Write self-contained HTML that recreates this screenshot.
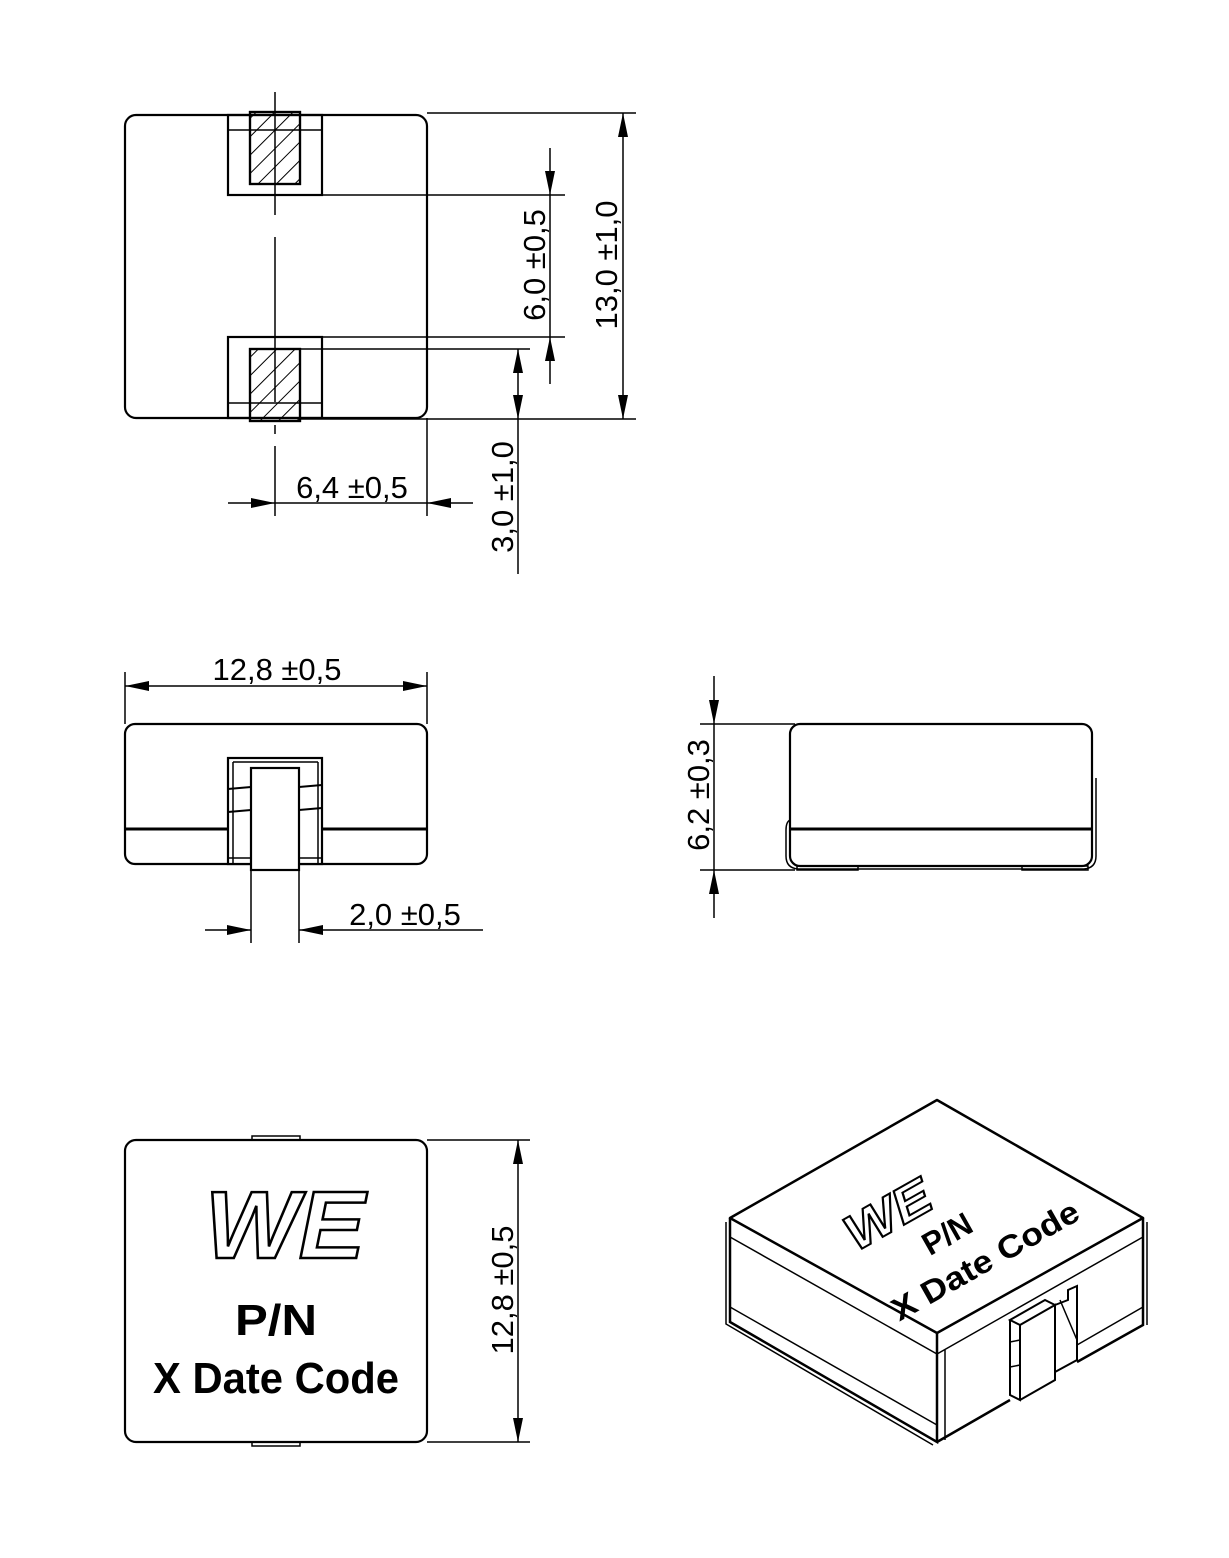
<!DOCTYPE html>
<html><head><meta charset="utf-8"><style>
html,body{margin:0;padding:0;background:#fff;}
svg{display:block;}
text{font-family:"Liberation Sans",sans-serif;}
.d{font-size:31px;fill:#000;}
</style></head><body>
<svg width="1229" height="1558" viewBox="0 0 1229 1558" xmlns="http://www.w3.org/2000/svg">
<defs>
<pattern id="h" width="13" height="13" patternUnits="userSpaceOnUse" patternTransform="rotate(45)">
<line x1="0" y1="0" x2="0" y2="13" stroke="#000" stroke-width="2"/>
</pattern>
<marker id="a" markerWidth="24" markerHeight="10" refX="24" refY="5" orient="auto" markerUnits="userSpaceOnUse">
<path d="M0,0 L24,5 L0,10 Z" fill="#000"/>
</marker>
</defs>
<g fill="none" stroke="#000" stroke-width="2.2">
<!-- TOP VIEW -->
<rect x="125" y="115" width="302" height="303" rx="11"/>
<rect x="228" y="115" width="94" height="80"/>
<rect x="228" y="337" width="94" height="81"/>
<line x1="228" y1="130" x2="322" y2="130" stroke-width="1.5"/>
<line x1="228" y1="403" x2="322" y2="403" stroke-width="1.5"/>
<rect x="250" y="112" width="50" height="72" fill="url(#h)"/>
<rect x="250" y="349" width="50" height="72" fill="url(#h)"/>
<rect x="250" y="112" width="50" height="72"/>
<rect x="250" y="349" width="50" height="72"/>
<line x1="275" y1="92" x2="275" y2="215" stroke-width="1.5"/>
<line x1="275" y1="237" x2="275" y2="402" stroke-width="1.5"/>
<line x1="275" y1="425" x2="275" y2="434" stroke-width="1.5"/>
<line x1="275" y1="446" x2="275" y2="516" stroke-width="1.5"/>
<!-- 13,0 -->
<line x1="427" y1="113" x2="636" y2="113" stroke-width="1.5"/>
<line x1="300" y1="419" x2="636" y2="419" stroke-width="1.5"/>
<line x1="623" y1="266" x2="623" y2="113" stroke-width="1.5" marker-end="url(#a)"/>
<line x1="623" y1="266" x2="623" y2="419" stroke-width="1.5" marker-end="url(#a)"/>
<!-- 6,0 -->
<line x1="322" y1="195" x2="565" y2="195" stroke-width="1.5"/>
<line x1="322" y1="337" x2="565" y2="337" stroke-width="1.5"/>
<line x1="550" y1="148" x2="550" y2="195" stroke-width="1.5" marker-end="url(#a)"/>
<line x1="550" y1="384" x2="550" y2="337" stroke-width="1.5" marker-end="url(#a)"/>
<line x1="550" y1="195" x2="550" y2="337" stroke-width="1.5"/>
<!-- 3,0 -->
<line x1="300" y1="349" x2="530" y2="349" stroke-width="1.5"/>
<line x1="518" y1="384" x2="518" y2="349" stroke-width="1.5" marker-end="url(#a)"/>
<line x1="518" y1="384" x2="518" y2="419" stroke-width="1.5" marker-end="url(#a)"/>
<line x1="518" y1="419" x2="518" y2="574" stroke-width="1.5"/>
<!-- 6,4 -->
<line x1="427" y1="418" x2="427" y2="516" stroke-width="1.5"/>
<line x1="228" y1="503" x2="275" y2="503" stroke-width="1.5" marker-end="url(#a)"/>
<line x1="473" y1="503" x2="427" y2="503" stroke-width="1.5" marker-end="url(#a)"/>
<line x1="275" y1="503" x2="427" y2="503" stroke-width="1.5"/>

<!-- FRONT VIEW -->
<rect x="125" y="724" width="302" height="140" rx="10"/>
<line x1="125" y1="829" x2="427" y2="829" stroke-width="3"/>
<rect x="228" y="758" width="94" height="106" fill="#fff"/>
<line x1="233" y1="762" x2="318" y2="762" stroke-width="1.5"/>
<line x1="233" y1="762" x2="233" y2="864" stroke-width="1.5"/>
<line x1="318" y1="762" x2="318" y2="864" stroke-width="1.5"/>
<line x1="228" y1="789" x2="251" y2="787" stroke-width="2"/>
<line x1="299" y1="787" x2="322" y2="785" stroke-width="2"/>
<line x1="228" y1="812" x2="251" y2="810" stroke-width="2"/>
<line x1="299" y1="810" x2="322" y2="808" stroke-width="2"/>
<line x1="228" y1="858" x2="251" y2="858" stroke-width="1.5"/>
<line x1="299" y1="858" x2="322" y2="858" stroke-width="1.5"/>
<rect x="251" y="768" width="48" height="102" fill="#fff"/>
<!-- 12,8 -->
<line x1="125" y1="672" x2="125" y2="724" stroke-width="1.5"/>
<line x1="427" y1="672" x2="427" y2="724" stroke-width="1.5"/>
<line x1="150" y1="686" x2="125" y2="686" stroke-width="1.5" marker-end="url(#a)"/>
<line x1="400" y1="686" x2="427" y2="686" stroke-width="1.5" marker-end="url(#a)"/>
<line x1="150" y1="686" x2="400" y2="686" stroke-width="1.5"/>
<!-- 2,0 -->
<line x1="251" y1="870" x2="251" y2="943" stroke-width="1.5"/>
<line x1="299" y1="870" x2="299" y2="943" stroke-width="1.5"/>
<line x1="205" y1="930" x2="251" y2="930" stroke-width="1.5" marker-end="url(#a)"/>
<line x1="483" y1="930" x2="299" y2="930" stroke-width="1.5" marker-end="url(#a)"/>

<!-- SIDE VIEW -->
<rect x="790" y="724" width="302" height="142" rx="10"/>
<line x1="790" y1="829" x2="1092" y2="829" stroke-width="3"/>
<path d="M790,820 Q786,822 786,830 L786,856 Q786,868 798,869 L1084,869 Q1096,868 1096,856 L1096,778" stroke-width="1.5"/>
<rect x="797" y="866" width="61" height="4" stroke-width="1.5"/>
<rect x="1022" y="866" width="66" height="4" stroke-width="1.5"/>
<line x1="700" y1="724" x2="795" y2="724" stroke-width="1.5"/>
<line x1="700" y1="870" x2="795" y2="870" stroke-width="1.5"/>
<line x1="714" y1="676" x2="714" y2="724" stroke-width="1.5" marker-end="url(#a)"/>
<line x1="714" y1="918" x2="714" y2="870" stroke-width="1.5" marker-end="url(#a)"/>
<line x1="714" y1="724" x2="714" y2="870" stroke-width="1.5"/>

<!-- BOTTOM-LEFT TOP VIEW -->
<rect x="252" y="1136" width="48" height="6" stroke-width="1.5"/>
<rect x="252" y="1440" width="48" height="6" stroke-width="1.5"/>
<rect x="125" y="1140" width="302" height="302" rx="11" fill="#fff"/>
<line x1="427" y1="1140" x2="530" y2="1140" stroke-width="1.5"/>
<line x1="427" y1="1442" x2="530" y2="1442" stroke-width="1.5"/>
<line x1="518" y1="1290" x2="518" y2="1140" stroke-width="1.5" marker-end="url(#a)"/>
<line x1="518" y1="1290" x2="518" y2="1442" stroke-width="1.5" marker-end="url(#a)"/>

<!-- ISOMETRIC -->
<path d="M937,1100 L1143,1218 L937,1333 L730,1218 Z" stroke-width="2.5" stroke-linejoin="round"/>
<path d="M730,1218 L730,1322 L937,1442 L937,1333" stroke-width="2.5"/>
<path d="M726,1222 L726,1324 L933,1445" stroke-width="1.5"/>
<path d="M937,1442 L1010,1400 M1077,1362 L1143,1325 L1143,1218" stroke-width="2.5"/>
<path d="M1147,1222 L1147,1325" stroke-width="1.5"/>
<path d="M730,1237 L937,1354" stroke-width="1.5"/>
<path d="M730,1307 L937,1425" stroke-width="1.5"/>
<path d="M937,1354 L1143,1237" stroke-width="1.5"/>
<path d="M1143,1307 L1077,1345" stroke-width="1.5"/>
<path d="M945,1350 L945,1440" stroke-width="1.5"/>
<!-- terminal -->
<path d="M1010,1320 L1010,1395 L1020,1400 L1020,1325 L1055,1305 L1055,1380 L1020,1400" stroke-width="2"/>
<path d="M1020,1325 L1010,1320 L1045,1300 L1055,1305" stroke-width="2"/>
<path d="M1055,1305 L1068,1300 L1068,1290 L1077,1286 L1077,1360 L1055,1372" stroke-width="2"/>
<path d="M1060,1300 L1077,1340" stroke-width="1.5"/>
<path d="M1010,1342 L1020,1340 M1010,1367 L1020,1365" stroke-width="1.5"/>
</g>

<!-- dimension texts -->
<text class="d" transform="translate(617,265) rotate(-90)" text-anchor="middle">13,0 ±1,0</text>
<text class="d" transform="translate(545,265) rotate(-90)" text-anchor="middle">6,0 ±0,5</text>
<text class="d" transform="translate(513,497) rotate(-90)" text-anchor="middle">3,0 ±1,0</text>
<text class="d" x="352" y="498" text-anchor="middle">6,4 ±0,5</text>
<text class="d" x="277" y="680" text-anchor="middle">12,8 ±0,5</text>
<text class="d" x="405" y="925" text-anchor="middle">2,0 ±0,5</text>
<text class="d" transform="translate(709,795) rotate(-90)" text-anchor="middle">6,2 ±0,3</text>
<text class="d" transform="translate(513,1290) rotate(-90)" text-anchor="middle">12,8 ±0,5</text>

<!-- top marking -->
<text x="285" y="1258" text-anchor="middle" font-size="96" font-weight="bold" font-style="italic" fill="#fff" stroke="#000" stroke-width="2.5" textLength="160" lengthAdjust="spacingAndGlyphs">WE</text>
<text x="276" y="1335" text-anchor="middle" font-size="44" font-weight="bold" textLength="82" lengthAdjust="spacingAndGlyphs">P/N</text>
<text x="276" y="1393" text-anchor="middle" font-size="44" font-weight="bold" textLength="246" lengthAdjust="spacingAndGlyphs">X Date Code</text>

<g transform="translate(937,1220) rotate(-29.5)">
<text x="-40" y="-12" text-anchor="middle" font-size="50" font-weight="bold" font-style="italic" fill="#fff" stroke="#000" stroke-width="2" textLength="92" lengthAdjust="spacingAndGlyphs">WE</text>
<text x="2" y="28" text-anchor="middle" font-size="32" font-weight="bold" textLength="52" lengthAdjust="spacingAndGlyphs">P/N</text>
<text x="22" y="70" text-anchor="middle" font-size="32" font-weight="bold" textLength="210" lengthAdjust="spacingAndGlyphs">X Date Code</text>
</g>
</svg>
</body></html>
